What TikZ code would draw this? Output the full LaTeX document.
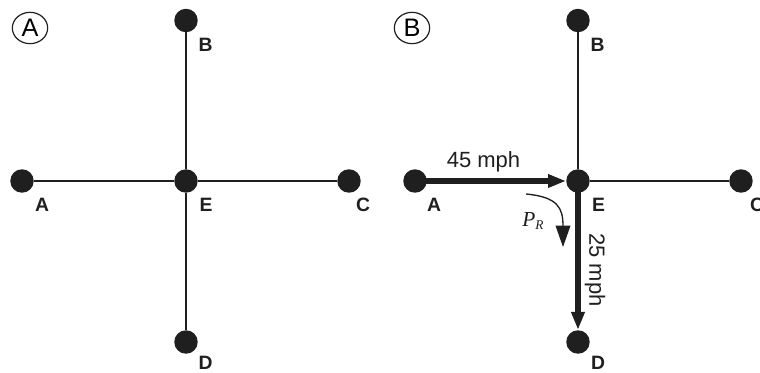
\documentclass[tikz,border=0pt]{standalone}
\usepackage{fontspec}
\setmainfont{Liberation Sans}
\newfontfamily\serifit{Liberation Serif}
\usetikzlibrary{arrows.meta,shapes.geometric}
\begin{document}
\begin{tikzpicture}[x=0.75pt,y=-0.75pt,
  dot/.style={circle,fill=black!88,inner sep=0pt,minimum size=17.6pt},
  lbl/.style={font=\bfseries\fontsize{14.5}{14.5}\selectfont,text=black!88,anchor=base,inner sep=0pt},
  edge/.style={line width=2pt,draw=black!88},
  thickarrow/.style={line width=4.5pt,draw=black!88,-{Triangle[length=13.5pt,width=9.5pt]}},
  panel/.style={ellipse,draw=black!88,line width=0.9pt,minimum width=26.5pt,minimum height=23.5pt,inner sep=0pt,font=\fontsize{19}{19}\selectfont},
  speed/.style={font=\fontsize{16.5}{16.5}\selectfont,text=black!88,inner sep=0pt}]
\useasboundingbox (0,0) rectangle (760,373);
% Panel A
\node[panel] (pa) at (30,28) {A};
\node[dot] (aE) at (186,181) {};
\node[dot] (aA) at (22,181) {};
\node[dot] (aB) at (186,20.5) {};
\node[dot] (aC) at (349,181) {};
\node[dot] (aD) at (186,342) {};
\draw[edge] (aA) -- (aE);
\draw[edge] (aE) -- (aC);
\draw[edge] (aB) -- (aE);
\draw[edge] (aE) -- (aD);
\node[lbl] (laA) at (42,212) {A};
\node[lbl] (laB) at (205.5,52) {B};
\node[lbl] (laC) at (363,212) {C};
\node[lbl] (laD) at (205.5,370) {D};
\node[lbl] (laE) at (206,212) {E};
% Panel B
\node[panel] (pb) at (412,28) {B};
\node[dot] (bE) at (578,181) {};
\node[dot] (bA) at (415,181) {};
\node[dot] (bB) at (578,20.5) {};
\node[dot] (bC) at (741,181) {};
\node[dot] (bD) at (578,342) {};
\draw[edge] (bB) -- (bE);
\draw[edge] (bE) -- (bC);
\draw[thickarrow] (bA.center) -- (bE.west);
\draw[thickarrow] (bE.center) -- (bD.north);
\node[lbl] (lbA) at (434,212) {A};
\node[lbl] (lbB) at (597.5,52) {B};
\node[lbl] (lbC) at (757,212) {C};
\node[lbl] (lbD) at (598,370) {D};
\node[lbl] (lbE) at (598.5,212) {E};
\node[speed,anchor=base] (s45) at (483.5,168) {45 mph};
\node[speed,rotate=-90] (s25) at (595,270) {25 mph};
\node[font=\serifit\itshape\fontsize{16}{16}\selectfont,text=black!88,anchor=base west,inner sep=0pt] (pr) at (522,227) {P\raisebox{-0.3ex}{\fontsize{10}{10}\selectfont R}};
\coordinate (cs) at (526,194);
\coordinate (ce) at (563,247);
\draw[line width=1pt,draw=black!88,-{Triangle[length=16pt,width=11pt]}] (cs) .. controls (558,197) and (563,208) .. (ce);
\end{tikzpicture}
\end{document}
